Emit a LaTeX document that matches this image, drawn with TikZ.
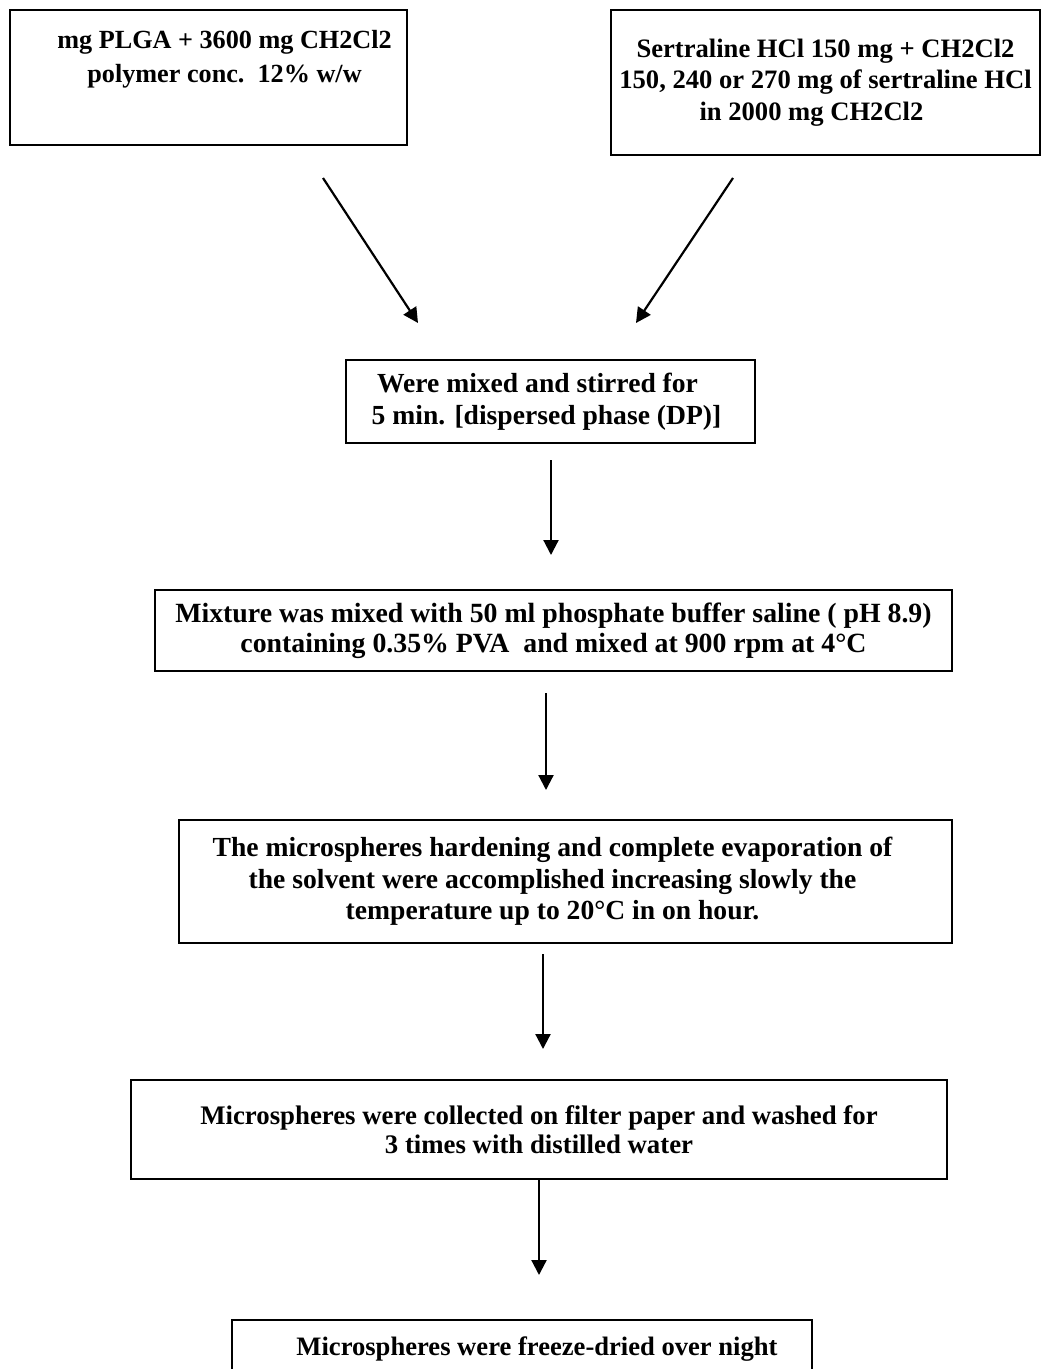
\documentclass[tikz,border=0pt]{standalone}
\usepackage{fontspec}
\setmainfont{Liberation Serif}
\usepackage{tikz}
\usetikzlibrary{arrows.meta, positioning}

\begin{document}
\begin{tikzpicture}[
    x=0.5pt, y=-0.5pt,
    box/.style={draw, line width=1pt, align=center, inner sep=0pt,
      font=\fontsize{13.3}{15.8}\selectfont\bfseries},
    big/.style={font=\fontsize{13.8}{15.8}\selectfont\bfseries},
    flow/.style={-{Triangle[length=7.5pt, width=7.5pt]}, line width=1.1pt},
]
  \useasboundingbox (0,0) rectangle (1045,1369);

  % Inputs (top)
  \node[box, font=\fontsize{13.1}{17}\selectfont\bfseries,
        minimum width=198.5pt, minimum height=67.5pt] (s1) at (208.5,77.5)
    {\hspace*{16pt}mg PLGA + 3600 mg CH2Cl2\\ \hspace*{16pt}polymer conc.\ \ 12\% w/w\\[4pt]\mbox{}};
  \node[box, minimum width=214.5pt, minimum height=72.5pt] (s2) at (825.5,82.5)
    {Sertraline HCl 150 mg + CH2Cl2\\ 150, 240 or 270 mg of sertraline HCl\\ in 2000 mg CH2Cl2\hspace*{14pt}\mbox{}};

  % Process steps
  \node[box, big, minimum width=204.5pt, minimum height=41.5pt] (s3) at (550.5,401.5)
    {Were mixed and stirred for\hspace*{13pt}\mbox{}\\ 5 min. [dispersed phase (DP)]\hspace*{4pt}\mbox{}};
  \node[box, font=\fontsize{13.9}{15}\selectfont\bfseries,
        minimum width=398.5pt, minimum height=40.5pt] (s4) at (553.5,630.5)
    {Mixture was mixed with 50 ml phosphate buffer saline ( pH 8.9)\\ containing 0.35\% PVA\ \ and mixed at 900 rpm at 4°C};
  \node[box, big, minimum width=386.5pt, minimum height=61.5pt] (s5) at (565.5,881.5)
    {The microspheres hardening and complete evaporation of\hspace*{13pt}\mbox{}\\
     the solvent were accomplished increasing slowly the\hspace*{13pt}\mbox{}\\
     temperature up to 20°C in on hour.\hspace*{13pt}\mbox{}};
  \node[box, font=\fontsize{13.4}{14.2}\selectfont\bfseries,
        minimum width=408pt, minimum height=49.5pt] (s6) at (539,1129.5)
    {Microspheres were collected on filter paper and washed for\\ 3 times with distilled water};
  \node[box, minimum width=290pt, minimum height=29pt] (s7) at (522,1349)
    {\hspace*{15pt}Microspheres were freeze-dried over night};

  % Arrow ends
  \coordinate (a1) at (323,178);  \coordinate (e1) at (418,323);
  \coordinate (a2) at (733,178);  \coordinate (e2) at (636,323);
  \coordinate (a3) at (551,460);  \coordinate (e3) at (551,555);
  \coordinate (a4) at (546,693);  \coordinate (e4) at (546,790);
  \coordinate (a5) at (543,954);  \coordinate (e5) at (543,1049);
  \coordinate (a6) at (539,1180); \coordinate (e6) at (539,1275);

  \foreach \i in {1,...,6}
    \draw[flow] (a\i) -- (e\i);
\end{tikzpicture}
\end{document}
